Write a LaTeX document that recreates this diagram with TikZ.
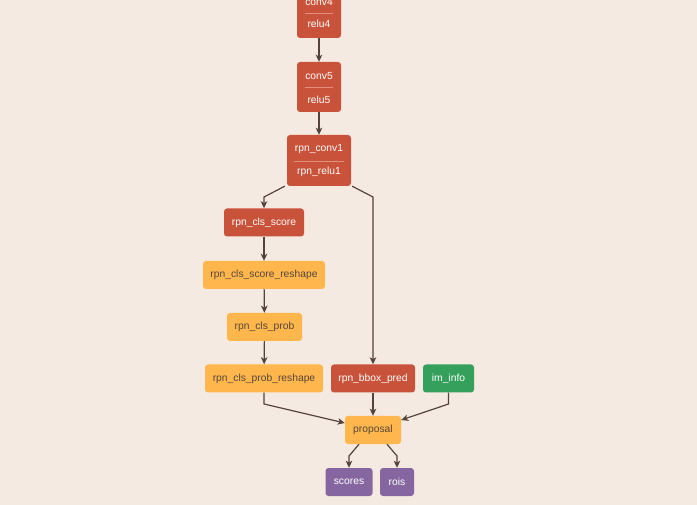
\documentclass[tikz,border=0pt]{standalone}
\usepackage{fontspec}
\setmainfont{Liberation Sans}
\usetikzlibrary{arrows.meta}
\definecolor{bgc}{HTML}{F5EAE1}
\definecolor{redc}{HTML}{C9533A}
\definecolor{sepc}{HTML}{E0907C}
\definecolor{orc}{HTML}{FFB74D}
\definecolor{grc}{HTML}{34A05B}
\definecolor{puc}{HTML}{8566A0}
\definecolor{edgec}{HTML}{54433A}
\definecolor{otxt}{HTML}{55453A}
\tikzset{
  box/.style={rectangle, rounded corners=3pt, inner sep=0pt, font=\fontsize{10.3}{12}\selectfont},
  redbox/.style={box, fill=redc, text=white},
  orbox/.style={box, fill=orc, text=otxt},
  grbox/.style={box, fill=grc, text=white},
  pubox/.style={box, fill=puc, text=white},
  lbl/.style={inner sep=0pt, text=white, font=\fontsize{10.3}{12}\selectfont},
  sep/.style={draw=sepc, line width=0.8pt},
  edge/.style={draw=edgec, line width=1.2pt, -{Stealth[length=7pt,width=6.5pt,inset=1.8pt]}}
}
\begin{document}
\begin{tikzpicture}[x=1pt,y=-1pt]
\fill[bgc] (0,0) rectangle (697,505);
\useasboundingbox (0,0) rectangle (697,505);
% two-line nodes
\node[redbox, minimum width=44, minimum height=50] (conv4) at (319,13) {};
\node[lbl] (conv4a) at (319,2.5) {conv4};
\node[lbl] (conv4b) at (319,24) {relu4};
\draw[sep] (305,13) -- (333,13);
\node[redbox, minimum width=44, minimum height=50] (conv5) at (319,87) {};
\node[lbl] (conv5a) at (319,76) {conv5};
\node[lbl] (conv5b) at (319,99.5) {relu5};
\draw[sep] (305,87.5) -- (333,87.5);
\node[redbox, minimum width=64, minimum height=51] (rpnconv1) at (319,160.5) {};
\node[lbl] (rpnconv1a) at (319,149) {rpn\_conv1};
\node[lbl] (rpnconv1b) at (319,172) {rpn\_relu1};
\draw[sep] (294,161) -- (344,161);
% single nodes
\node[redbox, minimum width=80, minimum height=28] (clsscore) at (264,222.5) {rpn\_cls\_score};
\node[orbox, minimum width=122, minimum height=28] (clsreshape) at (264,275) {rpn\_cls\_score\_reshape};
\node[orbox, minimum width=75, minimum height=28] (clsprob) at (264.5,327) {rpn\_cls\_prob};
\node[orbox, minimum width=118, minimum height=28] (probreshape) at (264,378.5) {rpn\_cls\_prob\_reshape};
\node[redbox, minimum width=84, minimum height=28] (bboxpred) at (373,378.5) {rpn\_bbox\_pred};
\node[grbox, minimum width=51, minimum height=28] (iminfo) at (448.5,378.5) {im\_info};
\node[orbox, minimum width=56, minimum height=28] (proposal) at (373,430) {proposal};
\node[pubox, minimum width=47, minimum height=28] (scores) at (349,482) {scores};
\node[pubox, minimum width=34, minimum height=28] (rois) at (397,482) {rois};
% edges
\draw[edge] (conv4) -- (conv5);
\draw[edge] (conv5) -- (rpnconv1);
\draw[edge] ([xshift=-2pt]rpnconv1.south west) -- (264,197) -- (clsscore.north);
\draw[edge] ([xshift=1pt]rpnconv1.south east) -- (373,197) -- (bboxpred.north);
\draw[edge] (clsscore) -- (clsreshape);
\draw[edge] (clsreshape) -- (clsprob);
\draw[edge] (clsprob) -- (probreshape);
\draw[edge] (probreshape.south) -- (264,404) -- ([yshift=7pt]proposal.west);
\draw[edge] (bboxpred) -- (proposal);
\draw[edge] (iminfo.south) -- (448.5,404) -- ([yshift=10pt]proposal.east);
\draw[edge] ([xshift=-14pt]proposal.south) -- (349,456) -- (scores.north);
\draw[edge] ([xshift=14pt]proposal.south) -- (397,456) -- (rois.north);
\end{tikzpicture}
\end{document}
